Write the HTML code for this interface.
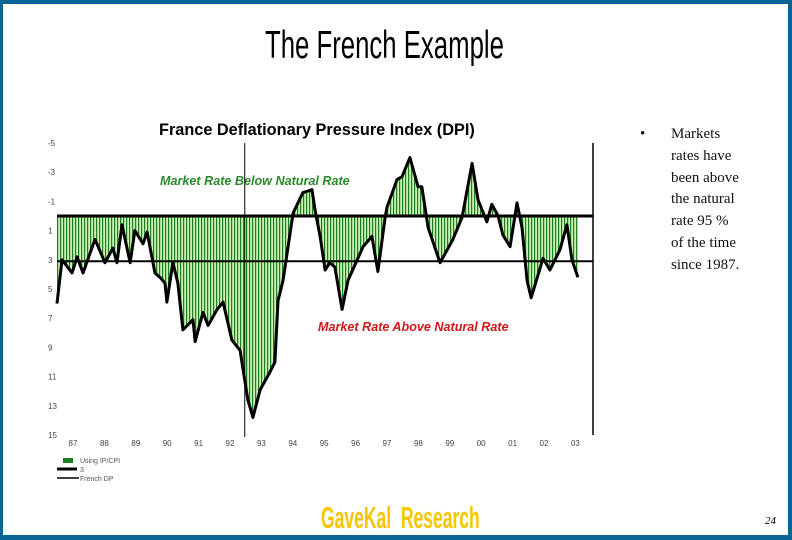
<!DOCTYPE html>
<html><head><meta charset="utf-8"><style>
body{margin:0;width:792px;height:540px;overflow:hidden;background:#fff;font-family:"Liberation Sans",sans-serif}
#frame{position:absolute;left:0;top:0;width:785px;height:531px;border-style:solid;border-color:#0a6496;border-width:4px 4px 5px 3px;background:#fff}
.t{position:absolute;white-space:nowrap}
</style></head><body>
<div id="frame"></div>
<div class="t" style="left:265px;top:24px;font-size:39px;transform:scaleX(0.66);transform-origin:left top;">The French Example</div>
<div style="position:absolute;left:640px;top:124px;font-family:'Liberation Serif',serif;font-size:15px;line-height:21.8px;color:#111;white-space:nowrap">
<span style="position:absolute;left:0;top:0">•</span>
<div style="margin-left:31px">Markets<br>rates have<br>been above<br>the natural<br>rate 95 %<br>of the time<br>since 1987.</div></div>
<div class="t" style="left:321px;top:500px;font-size:31px;font-weight:bold;color:#f7c600;transform:scaleX(0.565);transform-origin:left top;">GaveKal&nbsp;&nbsp;Research</div>
<div class="t" style="left:765px;top:515px;font-size:11px;font-style:italic;font-family:'Liberation Serif',serif">24</div>
<svg id="chart" width="792" height="540" style="position:absolute;left:0;top:0">
<defs><pattern id="stripes" width="3" height="10" patternUnits="userSpaceOnUse"><rect width="3" height="10" fill="#c9f2b4"/><rect width="1.2" height="10" fill="#1f7f23"/></pattern></defs>
<text x="159" y="135" font-size="16.3" font-weight="bold" font-family="Liberation Sans">France Deflationary Pressure Index (DPI)</text>
<text x="160" y="185" font-size="12.6" font-weight="bold" font-style="italic" fill="#2a8a2a" font-family="Liberation Sans">Market Rate Below Natural Rate</text>
<text x="318" y="331" font-size="12.6" font-weight="bold" font-style="italic" fill="#d01818" font-family="Liberation Sans">Market Rate Above Natural Rate</text>
<g id="plot"></g>
</svg>
<script>
const years=[1986.49,1986.65,1986.97,1987.13,1987.32,1987.70,1988.02,1988.27,1988.40,1988.56,1988.82,1988.97,1989.23,1989.36,1989.61,1989.77,1989.93,1989.99,1990.18,1990.34,1990.50,1990.82,1990.89,1991.14,1991.30,1991.59,1991.78,1992.06,1992.32,1992.57,1992.73,1992.96,1993.27,1993.43,1993.53,1993.69,1994.01,1994.32,1994.61,1994.71,1994.87,1995.03,1995.18,1995.34,1995.57,1995.76,1996.24,1996.52,1996.71,1996.94,1997.00,1997.32,1997.48,1997.73,1997.99,1998.11,1998.31,1998.69,1999.10,1999.39,1999.71,1999.90,2000.18,2000.34,2000.54,2000.69,2000.92,2001.14,2001.30,2001.46,2001.59,2001.97,2002.19,2002.51,2002.73,2002.89,2003.08];
const dpi=[6.0,3.0,3.9,2.8,3.9,1.6,3.2,2.2,3.2,0.6,3.2,1.0,1.9,1.1,3.9,4.2,4.6,5.9,3.2,4.6,7.8,7.1,8.6,6.6,7.5,6.4,5.9,8.5,9.2,12.6,13.8,11.9,10.7,10.0,5.8,4.4,-0.2,-1.6,-1.8,-0.4,1.4,3.7,3.2,3.5,6.4,4.4,2.1,1.4,3.8,0.1,-0.6,-2.5,-2.7,-4.0,-2.0,-2.0,0.8,3.2,1.6,0.1,-3.6,-1.1,0.4,-0.8,0.0,1.3,2.1,-0.9,0.8,4.4,5.6,2.9,3.7,2.3,0.6,3.0,4.2];
const avgLine=[3.1];
const yTicks=["-5","-3","-1","1","3","5","7","9","11","13","15"];
const yTickVals=[-5,-3,-1,1,3,5,7,9,11,13,15];
const xTicks=["87","88","89","90","91","92","93","94","95","96","97","98","99","00","01","02","03"];
const xTickVals=[1987,1988,1989,1990,1991,1992,1993,1994,1995,1996,1997,1998,1999,2000,2001,2002,2003];
const markerYear=[1992.47];
const ys=v=>216+v*14.6;
const xs=y=>73+(y-1987)*31.4;
const NS='http://www.w3.org/2000/svg';
const g=document.getElementById('plot');
function mk(tag,at){const e=document.createElementNS(NS,tag);for(const k in at)e.setAttribute(k,at[k]);g.appendChild(e);return e;}
let d='M'+xs(years[0])+','+ys(0);
years.forEach((y,i)=>d+=' L'+xs(y)+','+ys(dpi[i]));
d+=' L'+xs(years[years.length-1])+','+ys(0)+' Z';
const area=mk('path',{d:d,fill:'url(#stripes)'});


const zl=mk('line',{x1:57,x2:593,y1:ys(0),y2:ys(0),stroke:'#000','stroke-width':3});


const al=mk('line',{x1:57,x2:593,y1:ys(avgLine[0]),y2:ys(avgLine[0]),stroke:'#000','stroke-width':2});


const vl=mk('line',{x1:xs(markerYear[0]),x2:xs(markerYear[0]),y1:143,y2:437,stroke:'#000','stroke-width':1});


const rl=mk('line',{x1:593,x2:593,y1:143,y2:435,stroke:'#000','stroke-width':1.5});


const pl=mk('polyline',{points:years.map((y,i)=>xs(y)+','+ys(dpi[i])).join(' '),fill:'none',stroke:'#000','stroke-width':3,'stroke-linejoin':'round'});


yTicks.forEach((t,i)=>{const e=mk('text',{x:48,y:ys(yTickVals[i])+3,'font-size':8,fill:'#444','font-family':'Liberation Sans'});e.textContent=t;

});
xTicks.forEach((t,i)=>{const e=mk('text',{x:xs(xTickVals[i]),y:446,'font-size':8,fill:'#444','text-anchor':'middle','font-family':'Liberation Sans'});e.textContent=t;

});
const lr=mk('rect',{x:63,y:458,width:10,height:5,fill:'#1f7f23'});


const l1=mk('line',{x1:57,x2:77,y1:469,y2:469,stroke:'#000','stroke-width':3});


const l2=mk('line',{x1:57,x2:79,y1:478,y2:478,stroke:'#000','stroke-width':1.5});


[["Using IP/CPI",80,463],["3",80,472],["French DP",80,481]].forEach(a=>{const e=mk('text',{x:a[1],y:a[2],'font-size':7,fill:'#555','font-family':'Liberation Sans'});e.textContent=a[0];

});
</script>
</body></html>
